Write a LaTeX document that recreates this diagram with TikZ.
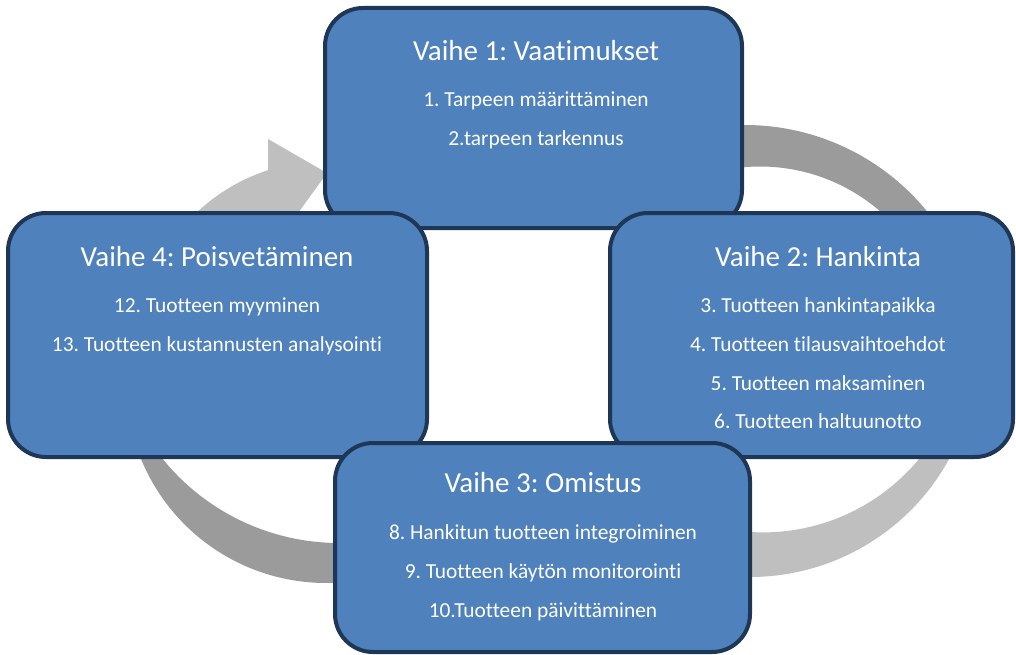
\documentclass[tikz,border=0pt]{standalone}
\usepackage{fontspec}
\setmainfont{Carlito}[Ligatures=NoCommon]
\usepackage{tikz}

\definecolor{boxfill}{RGB}{79,129,189}
\definecolor{boxline}{RGB}{31,55,86}
\definecolor{lightarc}{RGB}{191,191,191}
\definecolor{darkarc}{RGB}{155,155,155}

\frenchspacing
\begin{document}
\begin{tikzpicture}[x=1pt,y=-1pt,
        phase/.style={draw=boxline,fill=boxfill,line width=4pt,rounded corners=38pt,inner sep=0pt},
        head/.style={text=white,font=\fontsize{29}{34}\selectfont,anchor=base,inner sep=0pt},
        item/.style={text=white,font=\fontsize{21.4}{25}\selectfont,anchor=base,inner sep=0pt},
        band/.style={samples=60,smooth}]

    \useasboundingbox (0,0) rectangle (1016,655);

    \fill[darkarc] plot[band,domain=-100:10] ({745+235*cos(\x)},{360+235*sin(\x)})
        -- plot[band,domain=10:-100] ({760+183.5*cos(\x)},{350+183.5*sin(\x)}) -- cycle;
    \fill[lightarc] plot[band,domain=15:97] ({750+227*cos(\x)},{350+227*sin(\x)})
        -- plot[band,domain=97:15] ({763+202.4*cos(\x)},{330+202.4*sin(\x)}) -- cycle;
    \fill[darkarc] plot[band,domain=80:176.4] ({326+200*cos(\x)},{383+200*sin(\x)})
        -- plot[band,domain=159.5:80] ({339+227*cos(\x)},{316+227*sin(\x)}) -- cycle;
    \fill[lightarc] plot[band,domain=180:252] ({326+188*cos(\x)},{349+188*sin(\x)})
        -- plot[band,domain=252:180] ({326+145*cos(\x)},{349+145*sin(\x)}) -- cycle;
    \fill[lightarc] (268,139) -- (327,173) -- (285,231) -- (268,231) -- cycle;

    \node[phase,minimum width=417pt,minimum height=220pt] (b1) at (533.5,118) {};
    \node[head] (t1) at (536,61) {Vaihe 1: Vaatimukset};
    \node[item] (t1a) at (536,107) {1. Tarpeen määrittäminen};
    \node[item] (t1b) at (536,146) {2.tarpeen tarkennus};

    \node[phase,minimum width=403pt,minimum height=244pt] (b2) at (811.5,335) {};
    \node[head] (t2) at (818,266) {Vaihe 2: Hankinta};
    \node[item] (t2a) at (818,312) {3. Tuotteen hankintapaikka};
    \node[item] (t2b) at (818,351) {4. Tuotteen tilausvaihtoehdot};
    \node[item] (t2c) at (818,390) {5. Tuotteen maksaminen};
    \node[item] (t2d) at (818,428) {6. Tuotteen haltuunotto};

    \node[phase,minimum width=419pt,minimum height=244pt] (b4) at (217.5,335) {};
    \node[head] (t4) at (217,266) {Vaihe 4: Poisvetäminen};
    \node[item] (t4a) at (217,312) {12. Tuotteen myyminen};
    \node[item] (t4b) at (217,351) {13. Tuotteen kustannusten analysointi};

    \node[phase,minimum width=415pt,minimum height=209pt] (b3) at (542.5,547.5) {};
    \node[head] (t3) at (543,492) {Vaihe 3: Omistus};
    \node[item] (t3a) at (543,539) {8. Hankitun tuotteen integroiminen};
    \node[item] (t3b) at (543,578) {9. Tuotteen käytön monitorointi};
    \node[item] (t3c) at (543,617) {10.Tuotteen päivittäminen};
\end{tikzpicture}
\end{document}
